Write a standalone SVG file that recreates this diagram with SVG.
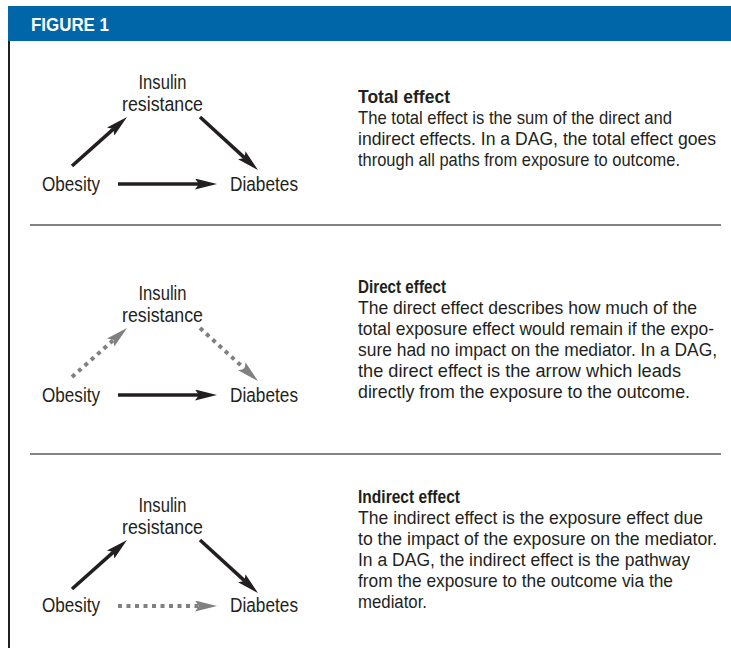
<svg xmlns="http://www.w3.org/2000/svg" width="731" height="648" viewBox="0 0 731 648">
<style>
.hdr{font-family:"Liberation Sans",Arial,sans-serif;font-weight:bold;font-size:18px;fill:#fff}
.lbl{font-family:"Liberation Sans Narrow","Liberation Sans",Arial,sans-serif;font-size:20.5px;fill:#231f20}
.ttl{font-family:"Liberation Sans",Arial,sans-serif;font-weight:bold;font-size:18.5px;fill:#231f20}
.txt{font-family:"Liberation Sans",Arial,sans-serif;font-size:18.5px;fill:#231f20}
.solid{stroke:#231f20;stroke-width:3.5;fill:none;marker-end:url(#ahb)}
.dot{stroke:#808080;stroke-width:4;fill:none;stroke-dasharray:4 4.5;marker-end:url(#ahg)}
.sep{stroke:#5a5a5a;stroke-width:1.6}
</style>
<defs>
<marker id="ahb" viewBox="0 0 22 11" markerWidth="22" markerHeight="11" refX="4" refY="5.5" orient="auto" markerUnits="userSpaceOnUse">
<path d="M0,0 L22,5.5 L0,11 L4,5.5 z" fill="#231f20"/>
</marker>
<marker id="ahg" viewBox="0 0 22 11" markerWidth="22" markerHeight="11" refX="4" refY="5.5" orient="auto" markerUnits="userSpaceOnUse">
<path d="M0,0 L22,5.5 L0,11 L4,5.5 z" fill="#808080"/>
</marker>
</defs>
<rect x="0" y="0" width="731" height="648" fill="#fff"/>
<g id="header">
<rect x="8" y="6" width="723" height="35" fill="#0066a8"/>
<text class="hdr" x="31" y="30.5" textLength="78" lengthAdjust="spacingAndGlyphs">FIGURE 1</text>
</g>
<line x1="9" y1="41" x2="9" y2="648" stroke="#231f20" stroke-width="2"/>
<line class="sep" x1="30" y1="225" x2="721" y2="225"/>
<line class="sep" x1="30" y1="454" x2="721" y2="454" stroke-width="2"/>

<!-- Section 1 -->
<g id="s1-insulin"><text class="lbl" text-anchor="middle" x="162.5" y="89" textLength="48" lengthAdjust="spacingAndGlyphs">Insulin</text><text class="lbl" text-anchor="middle" x="162.5" y="111" textLength="81" lengthAdjust="spacingAndGlyphs">resistance</text></g>
<g id="s1-obesity"><text class="lbl" x="42" y="191" textLength="58" lengthAdjust="spacingAndGlyphs">Obesity</text></g>
<g id="s1-diabetes"><text class="lbl" x="230" y="191" textLength="68" lengthAdjust="spacingAndGlyphs">Diabetes</text></g>
<g id="s1-desc" transform="translate(358,0) scale(0.85,1)">
<text class="ttl" x="0" y="103" textLength="108.2" lengthAdjust="spacingAndGlyphs">Total effect</text>
<text class="txt" x="0" y="124" textLength="369.4" lengthAdjust="spacingAndGlyphs">The total effect is the sum of the direct and</text>
<text class="txt" x="0" y="145" textLength="421.2" lengthAdjust="spacingAndGlyphs">indirect effects. In a DAG, the total effect goes</text>
<text class="txt" x="0" y="166" textLength="378.8" lengthAdjust="spacingAndGlyphs">through all paths from exposure to outcome.</text>
</g>

<!-- Section 2 -->
<g id="s2-insulin"><text class="lbl" text-anchor="middle" x="162.5" y="300" textLength="48" lengthAdjust="spacingAndGlyphs">Insulin</text><text class="lbl" text-anchor="middle" x="162.5" y="322" textLength="81" lengthAdjust="spacingAndGlyphs">resistance</text></g>
<g id="s2-obesity"><text class="lbl" x="42" y="402" textLength="58" lengthAdjust="spacingAndGlyphs">Obesity</text></g>
<g id="s2-diabetes"><text class="lbl" x="230" y="402" textLength="68" lengthAdjust="spacingAndGlyphs">Diabetes</text></g>
<g id="s2-desc" transform="translate(358,0) scale(0.85,1)">
<text class="ttl" x="0" y="293" textLength="103.5" lengthAdjust="spacingAndGlyphs">Direct effect</text>
<text class="txt" x="0" y="314" textLength="398.8" lengthAdjust="spacingAndGlyphs">The direct effect describes how much of the</text>
<text class="txt" x="0" y="335" textLength="418.8" lengthAdjust="spacingAndGlyphs">total exposure effect would remain if the expo-</text>
<text class="txt" x="0" y="356" textLength="422.4" lengthAdjust="spacingAndGlyphs">sure had no impact on the mediator. In a DAG,</text>
<text class="txt" x="0" y="377" textLength="380" lengthAdjust="spacingAndGlyphs">the direct effect is the arrow which leads</text>
<text class="txt" x="0" y="398" textLength="390.6" lengthAdjust="spacingAndGlyphs">directly from the exposure to the outcome.</text>
</g>

<!-- Section 3 -->
<g id="s3-insulin"><text class="lbl" text-anchor="middle" x="162.5" y="512" textLength="48" lengthAdjust="spacingAndGlyphs">Insulin</text><text class="lbl" text-anchor="middle" x="162.5" y="534" textLength="81" lengthAdjust="spacingAndGlyphs">resistance</text></g>
<g id="s3-obesity"><text class="lbl" x="42" y="612" textLength="58" lengthAdjust="spacingAndGlyphs">Obesity</text></g>
<g id="s3-diabetes"><text class="lbl" x="230" y="612" textLength="68" lengthAdjust="spacingAndGlyphs">Diabetes</text></g>
<g id="s3-desc" transform="translate(358,0) scale(0.85,1)">
<text class="ttl" x="0" y="503" textLength="120" lengthAdjust="spacingAndGlyphs">Indirect effect</text>
<text class="txt" x="0" y="524" textLength="405.9" lengthAdjust="spacingAndGlyphs">The indirect effect is the exposure effect due</text>
<text class="txt" x="0" y="545" textLength="422.4" lengthAdjust="spacingAndGlyphs">to the impact of the exposure on the mediator.</text>
<text class="txt" x="0" y="566" textLength="390.6" lengthAdjust="spacingAndGlyphs">In a DAG, the indirect effect is the pathway</text>
<text class="txt" x="0" y="587" textLength="370.6" lengthAdjust="spacingAndGlyphs">from the exposure to the outcome via the</text>
<text class="txt" x="0" y="608" textLength="81.2" lengthAdjust="spacingAndGlyphs">mediator.</text>
</g>

<g id="connectors">
<line class="solid" x1="72" y1="166" x2="113.6" y2="128.9"/>
<line class="solid" x1="200" y1="117" x2="244.7" y2="157.9"/>
<line class="solid" x1="118" y1="184" x2="199" y2="184"/>

<line class="dot" x1="72" y1="377" x2="113.6" y2="339.9"/>
<line class="dot" x1="200" y1="328" x2="244.7" y2="368.9"/>
<line class="solid" x1="118" y1="395" x2="199" y2="395"/>

<line class="solid" x1="72" y1="589" x2="113.6" y2="551.9"/>
<line class="solid" x1="200" y1="540" x2="244.7" y2="580.9"/>
<line class="dot" x1="118" y1="606" x2="199" y2="606"/>
</g>
</svg>
